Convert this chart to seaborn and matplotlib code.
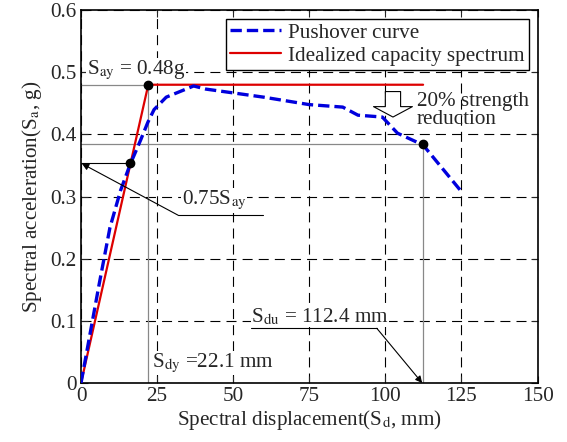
import numpy as np
import pandas as pd
import matplotlib
matplotlib.use("Agg")
import matplotlib.pyplot as plt
import seaborn as sns

# pushover curve
push_sd = [0, 3, 6, 9.5, 13, 16, 19.5, 22, 24, 28, 33, 37, 41, 60, 75, 86, 91, 99, 104, 112.4, 125]
push_sa = [0, 0.08, 0.16, 0.25, 0.31, 0.35, 0.39, 0.42, 0.44, 0.46, 0.47, 0.478, 0.473,
           0.46, 0.448, 0.444, 0.431, 0.428, 0.402, 0.383, 0.308]

# idealized bilinear capacity spectrum
sdy = 22.1
sdu = 112.4
say = 0.48
cap_sd = [0, sdy, sdu]
cap_sa = [0, say, say]

xticks = [0, 25, 50, 75, 100, 125, 150]
yticks = [0, 0.1, 0.2, 0.3, 0.4, 0.5, 0.6]
ytick_labels = ["0", "0.1", "0.2", "0.3", "0.4", "0.5", "0.6"]

sns.set_style("ticks")
plt.rcParams["font.family"] = ["Liberation Serif", "DejaVu Serif"]
plt.rcParams["mathtext.fontset"] = "stix"
fs = 15.2

fig = plt.figure(figsize=(5.67, 4.42), dpi=100)
ax = fig.add_axes([0.1429, 0.1335, 0.948 - 0.1429, 0.977 - 0.1335])

push = pd.DataFrame({"sd": push_sd, "sa": push_sa})
cap = pd.DataFrame({"sd": cap_sd, "sa": cap_sa})

# helper lines
ax.plot([0, sdy], [say, say], color="#888888", lw=0.9, zorder=2)
ax.plot([sdy, sdy], [0, say], color="#888888", lw=0.9, zorder=2)
ax.plot([0, sdu], [0.8 * say, 0.8 * say], color="#888888", lw=0.9, zorder=2)
ax.plot([sdu, sdu], [0, 0.8 * say], color="#888888", lw=0.9, zorder=2)
ax.plot([0, 16.1], [0.354, 0.354], color="black", lw=0.8, zorder=2)

sns.lineplot(data=push, x="sd", y="sa", sort=False, ax=ax, color="#0000dd", lw=2.4,
             label="Pushover curve", zorder=4)
ax.lines[-1].set_dashes((3.4, 1.5))
sns.lineplot(data=cap, x="sd", y="sa", sort=False, ax=ax, color="#dd0000", lw=1.6,
             label="Idealized capacity spectrum", zorder=3)

ax.plot([sdy, 16.1, sdu], [say, 0.354, 0.8 * say], "o", color="black", ms=6, zorder=6)

ax.set_xlim(0, 150)
ax.set_ylim(0, 0.6)
ax.set_xticks(xticks)
ax.set_yticks(yticks)
ax.set_yticklabels(ytick_labels)
ax.grid(True, color="black", lw=0.8, linestyle=(0, (9, 5.5)))
ax.tick_params(direction="in", top=True, right=True, length=5, labelsize=fs, pad=3)
for s in ax.spines.values():
    s.set_linewidth(1.2)
    s.set_color("black")

ax.set_xlabel("Spectral displacement(S$_{\\mathrm{d}}$, mm)", fontsize=fs, labelpad=1)
ax.set_ylabel("Spectral acceleration(S$_{\\mathrm{a}}$, g)", fontsize=fs, labelpad=5)

leg = ax.legend(loc="upper right", fontsize=fs, frameon=True, fancybox=False,
                edgecolor="black", framealpha=1, borderaxespad=0.4, handlelength=2.4,
                handletextpad=0.35, borderpad=0.2, labelspacing=0.15)
leg.get_frame().set_linewidth(1.0)

white = dict(facecolor="white", edgecolor="none", pad=0.5)

ax.text(2, 0.503, "S$_{\\mathrm{ay}}$ = 0.48g", fontsize=fs, va="center", ha="left", bbox=white, zorder=5)

# 0.75 Say annotation
ax.text(33.1, 0.294, "0.75S$_{\\mathrm{ay}}$", fontsize=fs, va="center", ha="left", bbox=white, zorder=5)
ax.plot([31.9, 59.8], [0.27, 0.27], color="black", lw=0.8, zorder=5)
ax.annotate("", xy=(0.3, 0.353), xytext=(31.9, 0.27),
            arrowprops=dict(arrowstyle="-|>", color="black", lw=0.8, mutation_scale=10,
                            shrinkA=0, shrinkB=0), zorder=5)

# Sdu annotation
ax.text(55.9, 0.107, "S$_{\\mathrm{du}}$ = 112.4 mm", fontsize=fs, va="center", ha="left", bbox=white, zorder=5)
ax.plot([55.9, 97.2], [0.088, 0.088], color="black", lw=0.8, zorder=5)
ax.annotate("", xy=(sdu - 0.3, 0.0), xytext=(97.2, 0.088),
            arrowprops=dict(arrowstyle="-|>", color="black", lw=0.8, mutation_scale=10,
                            shrinkA=0, shrinkB=0), zorder=5)

# Sdy label
ax.text(23.2, 0.032, "S$_{\\mathrm{dy}}$ =22.1 mm", fontsize=fs, va="center", ha="left", bbox=white, zorder=5)

# strength reduction arrow and text
ax.annotate("", xy=(102.5, 0.428), xytext=(102.5, 0.469),
            arrowprops=dict(arrowstyle="simple,head_width=2.8,head_length=0.75,tail_width=1.1",
                            fc="white", ec="black", lw=0.8, mutation_scale=10,
                            shrinkA=0, shrinkB=0), zorder=5)
ax.text(110.4, 0.438, "20% strength\nreduction", fontsize=fs, va="center", ha="left",
        linespacing=0.95, zorder=5)

fig.savefig("out.png", dpi=100)
